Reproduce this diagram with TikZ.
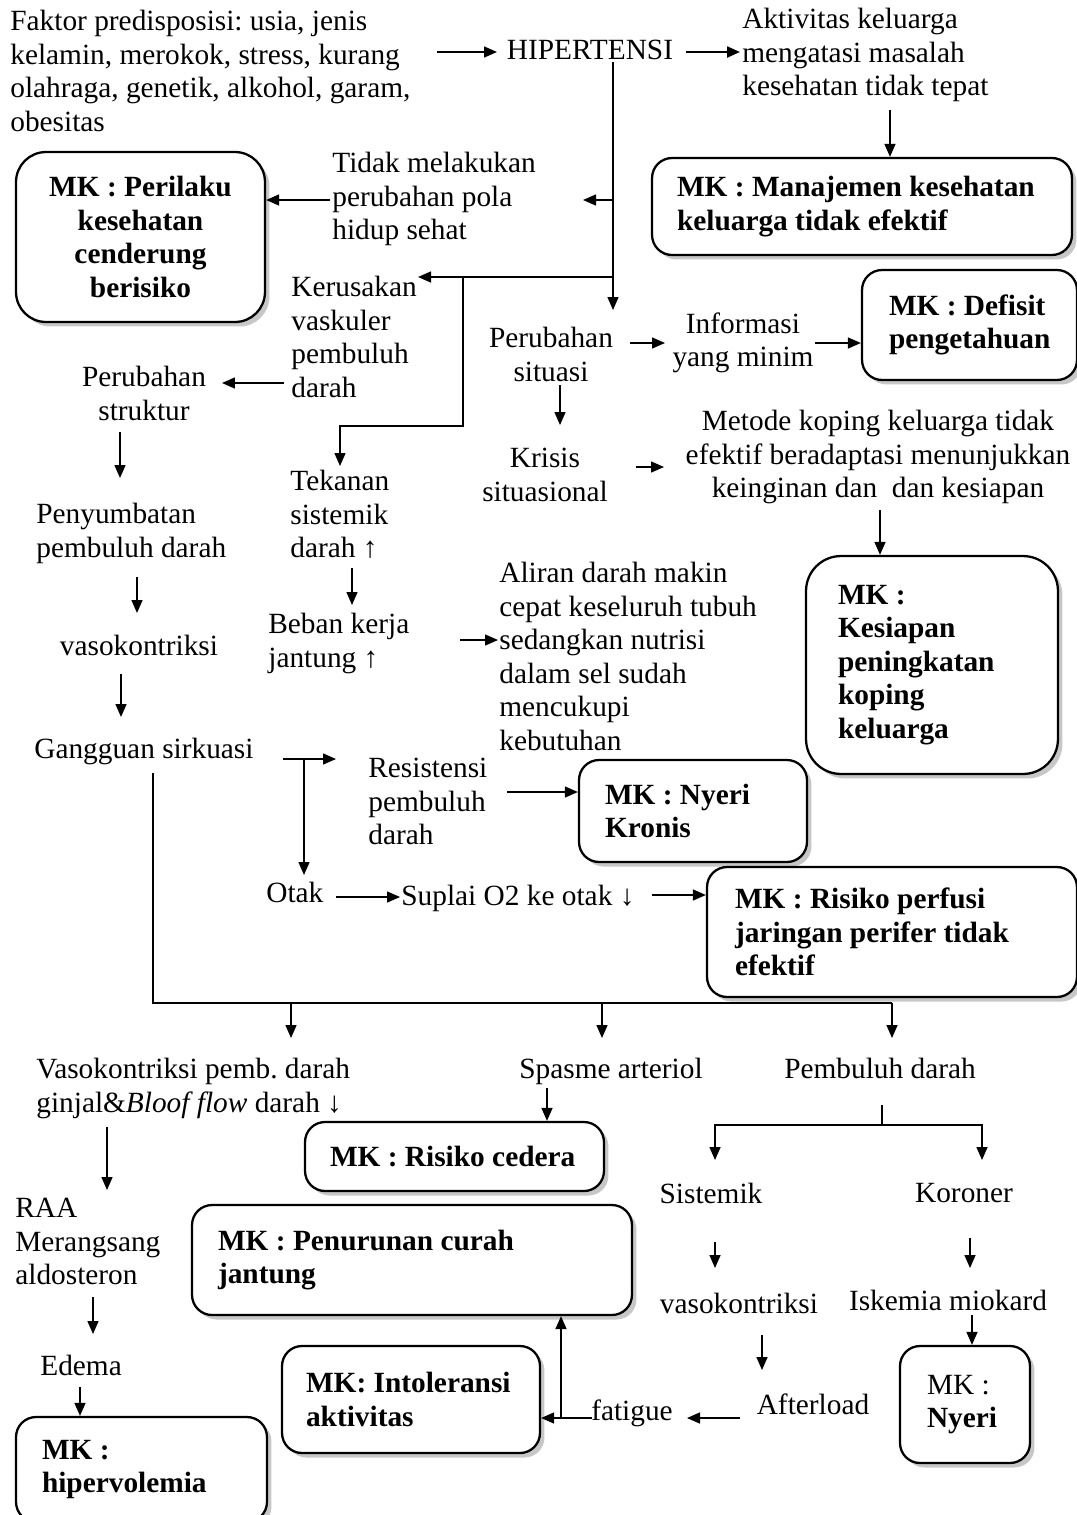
\documentclass[tikz,border=0pt]{standalone}
\usepackage{fontspec}
\setmainfont{Liberation Serif}
\usetikzlibrary{arrows.meta}
\usetikzlibrary{shadows}
\newcommand{\fs}{\fontsize{16.7}{19.1}\selectfont\frenchspacing}
\tikzset{
    txt/.style = {inner sep=0pt, align=left, anchor=north west, font=\fs},
    txtc/.style = {inner sep=0pt, align=center, anchor=north, font=\fs},
    mkbox/.style = {draw, line width=1.3pt, rounded corners=0.4cm, fill=white, align=flush left, inner ysep=0pt, font=\fs\bfseries, drop shadow={shadow xshift=0.09cm, shadow yshift=-0.09cm, fill=black!22, opacity=1}},
    arr/.style = {-{Triangle[length=0.26cm,width=0.22cm]}, line width=0.85pt},
    ln/.style = {line width=0.85pt},
}

\begin{document}
\begin{tikzpicture}[x=0.02cm, y=-0.02cm]
\useasboundingbox (0,0) rectangle (1077,1515);
\clip (0,0) rectangle (1077,1515);
%
\node[txt] at (10,10) (fak) {Faktor predisposisi: usia, jenis\\kelamin, merokok, stress, kurang\\olahraga, genetik, alkohol, garam,\\obesitas};
\node[txtc] at (590,40) (hip) {HIPERTENSI};
\node[txt] at (742,8) (akt) {Aktivitas keluarga\\mengatasi masalah\\kesehatan tidak tepat};
\node[txt] at (332,152) (tdk) {Tidak melakukan\\perubahan pola\\hidup sehat};
\node[txt] at (291,276) (krs) {Kerusakan\\vaskuler\\pembuluh\\darah};
\node[txtc] at (144,366) (pstr) {Perubahan\\struktur};
\node[txt] at (36,503) (pny) {Penyumbatan\\pembuluh darah};
\node[txtc] at (139,635) (vk1) {vasokontriksi};
\node[txt] at (34,738) (gg) {Gangguan sirkuasi};
\node[txt] at (290,470) (tkn) {Tekanan\\sistemik\\darah ↑};
\node[txt] at (268,613) (bbn) {Beban kerja\\jantung ↑};
\node[txt] at (499,562) (alr) {Aliran darah makin\\cepat keseluruh tubuh\\sedangkan nutrisi\\dalam sel sudah\\mencukupi\\kebutuhan};
\node[txt] at (368,758) (rst) {Resistensi\\pembuluh\\darah};
\node[txt] at (266,882) (otk) {Otak};
\node[txt] at (401,885) (spl) {Suplai O2 ke otak ↓};
\node[txtc] at (551,327) (psit) {Perubahan\\situasi};
\node[txtc] at (743,312) (inf) {Informasi\\yang minim};
\node[txtc] at (545,448) (krsi) {Krisis\\situasional};
\node[txtc] at (878,410) (mtd) {Metode koping keluarga tidak\\efektif beradaptasi menunjukkan\\keinginan dan\ \ dan kesiapan};
\node[txt] at (36,1058) (vgj) {Vasokontriksi pemb. darah\\ginjal\&\textit{Bloof flow} darah ↓};
\node[txtc] at (611,1058) (sps) {Spasme arteriol};
\node[txtc] at (880,1058) (pbd) {Pembuluh darah};
\node[txt] at (15,1198) (raa) {RAA\\Merangsang\\aldosteron};
\node[txtc] at (711,1183) (sis) {Sistemik};
\node[txtc] at (964,1183) (kor) {Koroner};
\node[txtc] at (739,1293) (vk2) {vasokontriksi};
\node[txtc] at (948,1290) (isk) {Iskemia miokard};
\node[txtc] at (813,1393) (aft) {Afterload};
\node[txtc] at (632,1399) (ftg) {fatigue};
\node[txt] at (40,1355) (edm) {Edema};
%
\node[mkbox, minimum width=8.4cm, minimum height=1.94cm, inner xsep=0.5cm, text width=7.4cm] at (862,206.5) (mkman) {MK : Manajemen kesehatan\\keluarga tidak efektif};
\node[mkbox, rounded corners=0.6cm, align=flush center, minimum width=4.98cm, minimum height=3.4cm, inner xsep=0.29cm, text width=4.4cm] at (140.5,237) (mkper) {MK : Perilaku\\kesehatan\\cenderung\\berisiko};
\node[mkbox, minimum width=4.3cm, minimum height=2.2cm, inner xsep=0.54cm, text width=3.22cm] at (969.5,325) (mkdef) {MK : Defisit\\pengetahuan};
\node[mkbox, rounded corners=0.7cm, minimum width=5.04cm, minimum height=4.36cm, inner xsep=0.64cm, text width=3.76cm] at (932,665) (mkkes) {MK :\\Kesiapan\\peningkatan\\koping\\keluarga};
\node[mkbox, minimum width=4.56cm, minimum height=2.04cm, inner xsep=0.52cm, text width=3.52cm] at (693,811) (mknk) {MK : Nyeri\\Kronis};
\node[mkbox, minimum width=7.4cm, minimum height=2.6cm, inner xsep=0.56cm, text width=6.28cm] at (892,932) (mkperf) {MK : Risiko perfusi\\jaringan perifer tidak\\efektif};
\node[mkbox, minimum width=5.98cm, minimum height=1.38cm, inner xsep=0.5cm, text width=4.98cm] at (454.5,1156.5) (mkced) {MK : Risiko cedera};
\node[mkbox, minimum width=8.8cm, minimum height=2.2cm, inner xsep=0.52cm, text width=7.76cm] at (412,1260) (mkcur) {MK : Penurunan curah\\jantung};
\node[mkbox, minimum width=5.16cm, minimum height=2.14cm, inner xsep=0.48cm, text width=4.2cm] at (411,1399.5) (mkint) {MK: Intoleransi\\aktivitas};
\node[mkbox, minimum width=2.6cm, minimum height=2.34cm, inner xsep=0.54cm, text width=1.52cm] at (965,1404.5) (mknye) {\mdseries MK :\\\textbf{Nyeri}};
\node[mkbox, minimum width=5.02cm, minimum height=2.1cm, inner xsep=0.52cm, text width=3.98cm] at (141.5,1469.5) (mkhip) {MK :\\hipervolemia};
%
\coordinate (a1) at (437,52);  \coordinate (a2) at (497,52);
\coordinate (a3) at (686,52);  \coordinate (a4) at (740,52);
\coordinate (a5) at (890,110);
\draw[arr] (a1) -- (a2);
\draw[arr, line width=1.3pt] (a3) -- (a4);
\draw[arr] (a5) -- (a5 |- mkman.north);
%
\coordinate (h0) at (613,62);  \coordinate (h3) at (613,310);
\coordinate (h1) at (613,200); \coordinate (h1e) at (583,200);
\coordinate (h2) at (613,277); \coordinate (h2e) at (418,277);
\coordinate (k0) at (463,277); \coordinate (k1) at (340,426); \coordinate (k2) at (340,466);
\draw[arr] (h0) -- (h3);
\draw[arr] (h1) -- (h1e);
\draw[arr] (h2) -- (h2e);
\draw[arr] (k0) |- (k1) -- (k2);
%
\coordinate (p1) at (330,200);
\draw[arr] (p1) -- (p1 -| mkper.east);
\coordinate (s1) at (284,383); \coordinate (s2) at (222,383);
\coordinate (s3) at (120,432); \coordinate (s4) at (120,478);
\coordinate (s5) at (137,577); \coordinate (s6) at (137,613);
\coordinate (s7) at (121,674); \coordinate (s8) at (121,717);
\draw[arr] (s1) -- (s2);
\draw[arr] (s3) -- (s4);
\draw[arr] (s5) -- (s6);
\draw[arr] (s7) -- (s8);
%
\coordinate (b1) at (352,568); \coordinate (b2) at (352,605);
\coordinate (b3) at (460,640); \coordinate (b4) at (498,640);
\draw[arr] (b1) -- (b2);
\draw[arr] (b3) -- (b4);
%
\coordinate (g1) at (283,759); \coordinate (g2) at (336,759);
\coordinate (g3) at (304,759); \coordinate (g4) at (304,875);
\coordinate (r1) at (507,792);
\coordinate (o1) at (336,897); \coordinate (o2) at (400,897);
\coordinate (o3) at (652,895);
\draw[arr] (g1) -- (g2);
\draw[arr] (g3) -- (g4);
\draw[arr] (r1) -- (r1 -| mknk.west);
\draw[arr] (o1) -- (o2);
\draw[arr] (o3) -- (o3 -| mkperf.west);
%
\coordinate (q1) at (630,343); \coordinate (q2) at (665,343);
\coordinate (q3) at (815,343);
\coordinate (q4) at (560,385); \coordinate (q5) at (560,425);
\coordinate (q6) at (636,467); \coordinate (q7) at (664,467);
\coordinate (q8) at (880,510);
\draw[arr] (q1) -- (q2);
\draw[arr] (q3) -- (q3 -| mkdef.west);
\draw[arr] (q4) -- (q5);
\draw[arr] (q6) -- (q7);
\draw[arr] (q8) -- (q8 |- mkkes.north);
%
\coordinate (u0) at (153,773); \coordinate (u1) at (153,1003); \coordinate (u2) at (892,1003);
\coordinate (d1) at (291,1003); \coordinate (d1e) at (291,1038);
\coordinate (d2) at (602,1003); \coordinate (d2e) at (602,1038);
\coordinate (d3e) at (892,1038);
\draw[ln] (u0) -- (u1) -- (u2);
\draw[arr] (d1) -- (d1e);
\draw[arr] (d2) -- (d2e);
\draw[arr] (u2) -- (d3e);
%
\coordinate (v1) at (107,1127); \coordinate (v2) at (107,1190);
\coordinate (v3) at (93,1297);  \coordinate (v4) at (93,1334);
\coordinate (v5) at (80,1387);
\coordinate (w1) at (547,1088);
\draw[arr] (v1) -- (v2);
\draw[arr] (v3) -- (v4);
\draw[arr] (v5) -- (v5 |- mkhip.north);
\draw[arr] (w1) -- (w1 |- mkced.north);
%
\coordinate (y0) at (882,1105); \coordinate (y1) at (882,1125);
\coordinate (yl) at (715,1160); \coordinate (yr) at (982,1160);
\draw[ln] (y0) -- (y1);
\draw[arr] (y1) -| (yl);
\draw[arr] (y1) -| (yr);
%
\coordinate (z1) at (715,1242); \coordinate (z2) at (715,1268);
\coordinate (z3) at (970,1238); \coordinate (z4) at (970,1268);
\coordinate (z5) at (972,1315);
\coordinate (z6) at (762,1335); \coordinate (z7) at (762,1370);
\coordinate (z8) at (740,1418); \coordinate (z9) at (687,1418);
\draw[arr] (z1) -- (z2);
\draw[arr] (z3) -- (z4);
\draw[arr] (z5) -- (z5 |- mknye.north);
\draw[arr] (z6) -- (z7);
\draw[arr] (z8) -- (z9);
%
\coordinate (f1) at (592,1418); \coordinate (f2) at (561,1418);
\draw[arr] (f1) -- (f1 -| mkint.east);
\draw[arr] (f2) -- (f2 |- mkcur.south);
\end{tikzpicture}
\end{document}
